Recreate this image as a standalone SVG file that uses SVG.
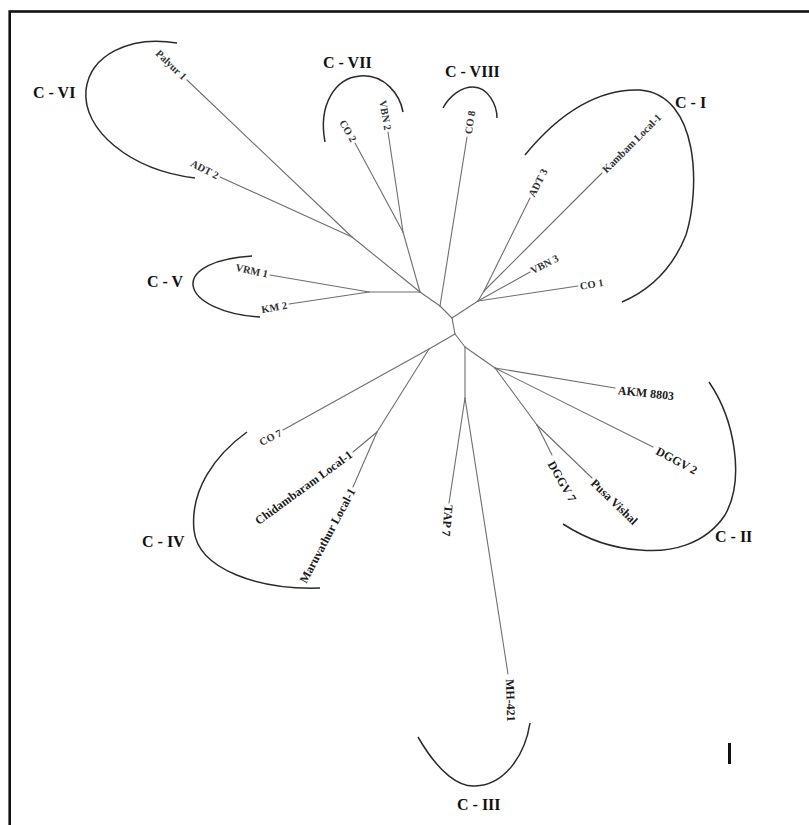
<svg xmlns="http://www.w3.org/2000/svg" width="809" height="825" viewBox="0 0 809 825">
<style>
.br{fill:none;stroke:#2a2a2a;stroke-width:1.5}
.ln{fill:none;stroke:#6e6e6e;stroke-width:1.1;stroke-linecap:round}
.cl{font-family:"Liberation Serif",serif;font-weight:bold;font-size:16px;fill:#111}
.lf{font-family:"Liberation Serif",serif;font-weight:bold;font-size:10.5px;fill:#333}
.lg{font-family:"Liberation Serif",serif;font-weight:bold;font-size:12px;fill:#1a1a1a}
</style>
<rect x="0" y="0" width="809" height="825" fill="#fff"/>
<rect id="frame" x="9.7" y="11.5" width="820" height="830" fill="none" stroke="#111" stroke-width="2.6"/>
<g id="connectors">
<line class="ln" x1="420" y1="292" x2="440" y2="306"/>
<line class="ln" x1="440" y1="306" x2="452" y2="318"/>
<line class="ln" x1="440" y1="306" x2="467" y2="137"/>
<line class="ln" x1="420" y1="292" x2="352" y2="237"/>
<line class="ln" x1="352" y1="237" x2="187" y2="80"/>
<line class="ln" x1="352" y1="237" x2="220" y2="177"/>
<line class="ln" x1="420" y1="292" x2="403" y2="232"/>
<line class="ln" x1="403" y1="232" x2="355" y2="143"/>
<line class="ln" x1="403" y1="232" x2="388" y2="132"/>
<line class="ln" x1="420" y1="292" x2="369" y2="292"/>
<line class="ln" x1="369" y1="292" x2="270" y2="275"/>
<line class="ln" x1="369" y1="292" x2="289" y2="304"/>
<line class="ln" x1="452" y1="318" x2="478" y2="301"/>
<line class="ln" x1="478" y1="301" x2="578" y2="286"/>
<line class="ln" x1="478" y1="301" x2="530" y2="272"/>
<line class="ln" x1="478" y1="301" x2="484" y2="291"/>
<line class="ln" x1="484" y1="291" x2="530" y2="198"/>
<line class="ln" x1="484" y1="291" x2="602" y2="173"/>
<line class="ln" x1="452" y1="318" x2="455" y2="334"/>
<line class="ln" x1="455" y1="334" x2="429" y2="349"/>
<line class="ln" x1="429" y1="349" x2="283" y2="430"/>
<line class="ln" x1="429" y1="349" x2="377" y2="432"/>
<line class="ln" x1="377" y1="432" x2="353" y2="452"/>
<line class="ln" x1="377" y1="432" x2="353" y2="487"/>
<line class="ln" x1="455" y1="334" x2="465" y2="347"/>
<line class="ln" x1="465" y1="347" x2="465" y2="398"/>
<line class="ln" x1="465" y1="398" x2="449" y2="503"/>
<line class="ln" x1="465" y1="398" x2="508" y2="674"/>
<line class="ln" x1="465" y1="347" x2="495" y2="368"/>
<line class="ln" x1="495" y1="368" x2="615" y2="388"/>
<line class="ln" x1="495" y1="368" x2="653" y2="447"/>
<line class="ln" x1="495" y1="368" x2="537" y2="425"/>
<line class="ln" x1="537" y1="425" x2="552" y2="455"/>
<line class="ln" x1="537" y1="425" x2="592" y2="478"/>
</g>
<g id="cluster-VI">
<path class="br" d="M177,43 C130,35 90,55 86,90 C82,130 130,170 195,178"/>
<text class="cl" x="33" y="98">C - VI</text>
</g>
<g id="cluster-VII">
<path class="br" d="M325,142 C318,105 335,78 360,76 C385,74 400,95 403,112"/>
<text class="cl" x="323" y="68">C - VII</text>
</g>
<g id="cluster-VIII">
<path class="br" d="M443,108 C450,95 462,87 473,87 C488,87 497,105 497,118"/>
<text class="cl" x="445" y="77">C - VIII</text>
</g>
<g id="cluster-I">
<path class="br" d="M525,155 C560,112 600,88 640,90 C700,95 700,190 686,235 C672,270 650,290 622,302"/>
<text class="cl" x="675" y="108">C - I</text>
</g>
<g id="cluster-V">
<path class="br" d="M252,256 C215,258 192,270 193,285 C195,302 225,315 260,317"/>
<text class="cl" x="147" y="287">C - V</text>
</g>
<g id="cluster-IV">
<path class="br" d="M247,432 C215,455 190,490 194,530 C198,570 260,590 320,588"/>
<text class="cl" x="142" y="547">C - IV</text>
</g>
<g id="cluster-II">
<path class="br" d="M709,382 C735,420 745,480 725,515 C705,545 670,553 640,550 C605,548 580,535 563,524"/>
<text class="cl" x="715" y="542">C - II</text>
</g>
<g id="cluster-III">
<path class="br" d="M418,737 C440,775 460,787 475,786 C505,785 525,755 530,723"/>
<text class="cl" x="457" y="810">C - III</text>
</g>
<g id="leaf-Palyur1"><text class="lf" text-anchor="end" dy=".35em" transform="translate(185,78) rotate(44)">Palyur 1</text></g>
<g id="leaf-ADT2"><text class="lf" text-anchor="end" dy=".35em" transform="translate(218,176) rotate(27)">ADT 2</text></g>
<g id="leaf-CO2"><text class="lf" text-anchor="end" dy=".35em" transform="translate(354,141) rotate(60)">CO 2</text></g>
<g id="leaf-VBN2"><text class="lf" text-anchor="end" dy=".35em" transform="translate(388,130) rotate(80)">VBN 2</text></g>
<g id="leaf-CO8"><text class="lf" dy=".35em" transform="translate(468,134) rotate(-81)">CO 8</text></g>
<g id="leaf-ADT3"><text class="lf" dy=".35em" transform="translate(531,196) rotate(-63)">ADT 3</text></g>
<g id="leaf-Kambam"><text class="lf" dy=".35em" transform="translate(604,171) rotate(-45)">Kambam Local-1</text></g>
<g id="leaf-VBN3"><text class="lf" dy=".35em" transform="translate(531,271) rotate(-27)">VBN 3</text></g>
<g id="leaf-CO1"><text class="lf" dy=".35em" transform="translate(580,286) rotate(-9)">CO 1</text></g>
<g id="leaf-VRM1"><text class="lf" text-anchor="end" dy=".35em" transform="translate(268,274) rotate(12)">VRM 1</text></g>
<g id="leaf-KM2"><text class="lf" text-anchor="end" dy=".35em" transform="translate(287,305) rotate(-10)">KM 2</text></g>
<g id="leaf-CO7"><text class="lf" text-anchor="end" dy=".35em" transform="translate(281,432) rotate(-27)">CO 7</text></g>
<g id="leaf-Chidambaram"><text class="lg" text-anchor="end" dy=".35em" transform="translate(351,453) rotate(-36)">Chidambaram Local-1</text></g>
<g id="leaf-Maruvathur"><text class="lg" text-anchor="end" dy=".35em" transform="translate(352,489) rotate(-62)">Maruvathur Local-1</text></g>
<g id="leaf-TAP7"><text class="lg" dy=".35em" transform="translate(449,505) rotate(95)">TAP 7</text></g>
<g id="leaf-MH421"><text class="lg" dy=".35em" transform="translate(510,679) rotate(88)">MH-421</text></g>
<g id="leaf-AKM8803"><text class="lg" dy=".35em" transform="translate(618,390) rotate(6)">AKM 8803</text></g>
<g id="leaf-DGGV2"><text class="lg" dy=".35em" transform="translate(657,450) rotate(28)">DGGV 2</text></g>
<g id="leaf-DGGV7"><text class="lg" dy=".35em" transform="translate(551,462) rotate(60)">DGGV 7</text></g>
<g id="leaf-PusaVishal"><text class="lg" dy=".35em" transform="translate(593,481) rotate(44)">Pusa Vishal</text></g>
<g id="scale-bar"><rect x="728" y="743" width="3" height="21" fill="#111"/></g>
</svg>
